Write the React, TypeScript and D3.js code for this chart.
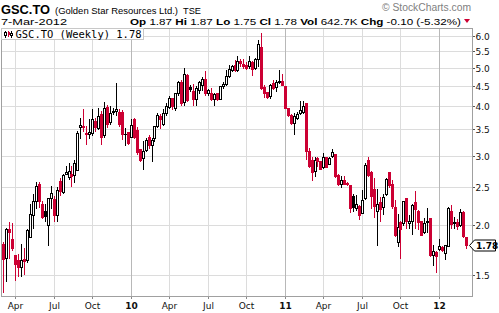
import React, { useEffect } from "react";
import * as d3 from "d3";

// Weekly candles for GSC.TO, first week starting Monday 9-Mar-2009
const firstWeek = new Date(2009, 2, 9);
const lastWeekEnd = new Date(2012, 2, 6);

const opens = [
  1.80, 1.66, 1.96, 1.85, 1.68, 1.64, 1.57, 1.65, 1.64, 1.87,
  2.12, 2.31, 2.54, 2.27, 2.17, 2.00, 2.34, 2.33, 2.13, 2.59,
  2.43, 2.70, 2.65, 2.69, 2.68, 2.76, 3.53, 3.56, 3.39, 3.40,
  3.42, 3.66, 3.52, 3.82, 3.37, 3.98, 3.65, 3.86, 3.88, 3.86,
  3.86, 3.39, 3.44, 3.35, 3.71, 3.47, 3.11, 2.96, 3.09, 3.34,
  3.19, 3.32, 3.56, 3.78, 3.61, 3.85, 3.97, 4.19, 3.95, 4.31,
  4.60, 4.10, 4.79, 4.46, 4.37, 4.16, 4.40, 4.52, 4.68, 4.30,
  4.31, 4.17, 4.30, 4.17, 4.48, 4.54, 4.77, 4.92, 5.06, 4.92,
  5.19, 5.10, 5.07, 5.03, 5.17, 5.00, 5.24, 5.63, 4.47, 4.35,
  4.23, 4.58, 4.47, 4.59, 4.61, 4.48, 3.95, 3.80, 3.62, 3.74,
  3.84, 3.86, 4.07, 3.08, 2.92, 2.74, 2.95, 2.91, 2.81, 2.97,
  2.86, 2.99, 3.02, 2.68, 2.55, 2.60, 2.56, 2.53, 2.37, 2.21,
  2.24, 2.15, 2.35, 2.93, 2.73, 2.47, 2.18, 2.29, 2.23, 2.40,
  2.73, 2.54, 2.23, 1.82, 2.04, 2.03, 2.34, 2.03, 2.05, 2.29,
  2.17, 2.05, 1.93, 2.05, 2.09, 1.68, 1.71, 1.74, 1.76, 1.70,
  1.77, 2.18, 2.03, 2.04, 2.00, 2.16, 1.87,
];
const highs = [
  1.82, 1.97, 2.04, 2.03, 1.68, 1.69, 1.80, 1.75, 1.96, 2.26,
  2.40, 2.58, 2.58, 2.30, 2.26, 2.35, 2.52, 2.37, 2.50, 2.63,
  2.69, 2.82, 2.88, 2.83, 2.92, 3.45, 3.73, 3.93, 3.56, 3.70,
  3.92, 3.72, 3.95, 3.88, 4.10, 4.02, 4.00, 3.95, 4.57, 3.93,
  3.90, 3.52, 3.44, 3.70, 3.73, 3.54, 3.12, 3.26, 3.33, 3.37,
  3.33, 3.56, 3.83, 3.81, 3.92, 4.08, 4.25, 4.20, 4.31, 4.61,
  4.65, 4.98, 4.81, 4.52, 4.55, 4.50, 4.63, 4.72, 4.90, 4.42,
  4.44, 4.31, 4.31, 4.48, 4.60, 4.93, 5.06, 5.08, 5.23, 5.36,
  5.25, 5.25, 5.15, 5.33, 5.19, 5.28, 5.85, 6.12, 4.52, 4.35,
  4.55, 4.64, 4.64, 4.94, 4.81, 4.48, 3.96, 3.81, 3.84, 3.86,
  4.12, 4.12, 4.07, 3.14, 2.98, 2.98, 2.98, 2.91, 3.05, 2.98,
  2.98, 3.12, 3.03, 2.70, 2.66, 2.66, 2.58, 2.53, 2.40, 2.38,
  2.25, 2.45, 2.87, 2.97, 2.74, 2.64, 2.47, 2.36, 2.40, 2.64,
  2.73, 2.60, 2.32, 2.14, 2.05, 2.30, 2.35, 2.12, 2.27, 2.44,
  2.19, 2.05, 2.09, 2.21, 2.09, 1.79, 1.72, 1.85, 1.77, 1.78,
  2.22, 2.25, 2.10, 2.08, 2.20, 2.18, 1.87,
];
const lows = [
  1.36, 1.45, 1.66, 1.73, 1.46, 1.49, 1.49, 1.51, 1.62, 1.87,
  1.97, 2.21, 2.23, 2.09, 2.05, 1.79, 2.21, 2.05, 2.05, 2.38,
  2.42, 2.69, 2.62, 2.52, 2.58, 2.76, 3.32, 3.46, 3.20, 3.33,
  3.38, 3.45, 3.49, 3.20, 3.35, 3.55, 3.60, 3.82, 3.80, 3.56,
  3.31, 3.19, 3.20, 3.34, 3.32, 3.02, 2.90, 2.78, 3.08, 3.13,
  2.90, 3.26, 3.53, 3.52, 3.59, 3.80, 3.96, 3.93, 3.91, 4.27,
  4.02, 4.02, 4.12, 4.37, 4.02, 4.02, 4.30, 4.40, 4.27, 4.27,
  4.13, 4.02, 4.14, 4.16, 4.44, 4.52, 4.74, 4.90, 4.91, 4.90,
  5.04, 4.98, 4.95, 4.99, 4.80, 4.97, 5.04, 4.42, 4.22, 4.18,
  4.18, 4.42, 4.37, 4.58, 4.52, 3.95, 3.78, 3.61, 3.39, 3.70,
  3.82, 3.85, 2.94, 2.80, 2.61, 2.67, 2.82, 2.77, 2.79, 2.80,
  2.85, 2.98, 2.65, 2.53, 2.50, 2.54, 2.53, 2.16, 2.17, 2.19,
  2.07, 2.15, 2.33, 2.66, 2.21, 2.10, 1.78, 2.05, 2.14, 2.38,
  2.50, 2.21, 1.88, 1.77, 1.66, 2.01, 1.97, 1.97, 1.90, 1.97,
  1.96, 1.89, 1.91, 1.93, 1.67, 1.59, 1.53, 1.73, 1.72, 1.65,
  1.77, 1.97, 1.97, 1.96, 1.99, 1.87, 1.75,
];
const closes = [
  1.65, 1.96, 1.93, 1.75, 1.60, 1.57, 1.64, 1.63, 1.95, 2.14,
  2.31, 2.52, 2.31, 2.10, 2.11, 2.34, 2.42, 2.13, 2.46, 2.44,
  2.68, 2.72, 2.74, 2.67, 2.88, 3.42, 3.58, 3.54, 3.42, 3.44,
  3.71, 3.54, 3.77, 3.35, 3.95, 3.60, 3.85, 3.88, 3.92, 3.61,
  3.39, 3.40, 3.23, 3.58, 3.35, 3.06, 2.93, 3.08, 3.28, 3.19,
  3.29, 3.56, 3.80, 3.70, 3.85, 3.99, 4.19, 3.99, 4.31, 4.59,
  4.08, 4.81, 4.15, 4.42, 4.17, 4.45, 4.60, 4.69, 4.32, 4.38,
  4.17, 4.28, 4.17, 4.48, 4.54, 4.77, 4.96, 5.03, 4.94, 5.20,
  5.12, 5.03, 4.99, 5.19, 4.95, 5.25, 5.74, 4.44, 4.32, 4.22,
  4.53, 4.45, 4.59, 4.63, 4.52, 3.95, 3.79, 3.62, 3.78, 3.82,
  3.90, 3.99, 3.08, 2.83, 2.73, 2.93, 2.90, 2.78, 2.98, 2.81,
  2.95, 3.07, 2.66, 2.55, 2.60, 2.55, 2.54, 2.21, 2.22, 2.26,
  2.12, 2.32, 2.84, 2.68, 2.37, 2.24, 2.27, 2.20, 2.36, 2.62,
  2.53, 2.24, 1.89, 1.98, 1.96, 2.30, 2.05, 2.05, 2.25, 2.20,
  2.04, 1.89, 2.03, 2.04, 1.68, 1.72, 1.67, 1.77, 1.73, 1.78,
  2.21, 2.02, 2.04, 1.99, 2.16, 1.88, 1.78,
];

const priceTicks = [1.5, 2.0, 2.5, 3.0, 3.5, 4.0, 4.5, 5.0, 5.5, 6.0];

const symbol = "GSC.TO";
const companyName = "(Golden Star Resources Ltd.)";
const exchange = "TSE";
const dateLabel = "7-Mar-2012";
const quoteLabels = ["Op", "Hi", "Lo", "Cl", "Vol", "Chg"];
const quoteValues = ["1.87", "1.87", "1.75", "1.78", "642.7K", "-0.10 (-5.32%)"];
const legendLabel = "GSC.TO (Weekly) 1.78";
const copyright = "\u00A9 StockCharts.com";

const W = 499;
const H = 313;
const RED = "#cc0033";
const GRID = "#dcdcdc";
const YEAR_GRID = "#b8b8b8";
const FRAME = "#a0a0a0";
const SANS = "'DejaVu Sans', Verdana, sans-serif";
const ARIAL = "'Liberation Sans', Arial, sans-serif";

export default function App() {
  useEffect(() => {
    document.body.style.margin = "0";
  }, []);

  const dates = d3.timeMonday.range(firstWeek, lastWeekEnd).slice(0, closes.length);
  const x = d3
    .scaleTime()
    .domain([dates[0], dates[dates.length - 1]])
    .range([3.3, 465.7]);
  const y = d3.scaleLog().domain([1.32, 6.27]).range([297, 28.5]);

  const plotL = 1.5;
  const plotR = 472;
  const plotT = 28.5;
  const plotB = 296.5;

  const quarterTicks = dates
    .map((d, i) => ({ d, i }))
    .filter(
      ({ d, i }) =>
        i > 0 && d.getMonth() % 3 === 0 && dates[i - 1].getMonth() !== d.getMonth()
    );
  const fmtMonth = d3.timeFormat("%b");
  const fmtYear = d3.timeFormat("%y");

  const lastClose = closes[closes.length - 1];
  const tagY = Math.round(y(lastClose));

  return (
    <svg
      width={W}
      height={H}
      style={{ position: "absolute", left: 0, top: 0, background: "#fff" }}
      xmlns="http://www.w3.org/2000/svg"
    >
      <rect x={0} y={0} width={W} height={H} fill="#fff" />

      {/* header */}
      <text x={1} y={13.8} fontFamily={ARIAL} fontWeight="bold" fontSize={13} textLength={49} lengthAdjust="spacingAndGlyphs">
        {symbol}
      </text>
      <text x={55} y={13.5} fontFamily={ARIAL} fontSize={9.4} textLength={123} lengthAdjust="spacingAndGlyphs">
        {companyName}
      </text>
      <text x={183} y={13.5} fontFamily={ARIAL} fontSize={9.8} textLength={18} lengthAdjust="spacingAndGlyphs">
        {exchange}
      </text>
      <text x={382} y={10.5} fontFamily={ARIAL} fontSize={10} fill="#808080" textLength={89} lengthAdjust="spacingAndGlyphs">
        {copyright}
      </text>
      <text x={1} y={25} fontFamily={ARIAL} fontSize={9.5} textLength={66} lengthAdjust="spacingAndGlyphs">
        {dateLabel}
      </text>
      <text x={130} y={25} fontFamily={ARIAL} fontSize={9.5} textLength={331} lengthAdjust="spacingAndGlyphs">
        {quoteLabels.map((lab, i) => (
          <React.Fragment key={lab}>
            <tspan fontWeight="bold">{(i > 0 ? " " : "") + lab}</tspan>
            <tspan>{" " + quoteValues[i]}</tspan>
          </React.Fragment>
        ))}
      </text>
      <polygon points="464,19 470,19 467,23" fill={RED} />

      {/* horizontal grid */}
      {priceTicks.map((t) => {
        const yy = Math.round(y(t)) + 0.5;
        return (
          <g key={"h" + t}>
            <line x1={plotL} x2={plotR} y1={yy} y2={yy} stroke={GRID} strokeWidth={1} />
            <line x1={plotR} x2={plotR + 3} y1={yy} y2={yy} stroke="#555" strokeWidth={1} />
            <text x={475.5} y={yy + 3.5} fontFamily={SANS} fontSize={9} fill="#111">
              {t.toFixed(1)}
            </text>
          </g>
        );
      })}

      {/* vertical grid + x labels */}
      {quarterTicks.map(({ d }) => {
        const xx = Math.round(x(d)) + 0.5;
        const isYear = d.getMonth() === 0;
        return (
          <g key={"v" + d.getTime()}>
            <line
              x1={xx}
              x2={xx}
              y1={plotT}
              y2={plotB}
              stroke={isYear ? YEAR_GRID : GRID}
              strokeWidth={1}
            />
            <line x1={xx} x2={xx} y1={plotB} y2={plotB + 2.5} stroke="#888" strokeWidth={1} />
            <text
              x={xx}
              y={309}
              textAnchor="middle"
              fontFamily={SANS}
              fontSize={9}
              fontWeight={isYear ? "bold" : "normal"}
              fill="#111"
            >
              {isYear ? fmtYear(d) : fmtMonth(d)}
            </text>
          </g>
        );
      })}

      {/* candles */}
      <g shapeRendering="crispEdges">
        {dates.map((d, i) => {
          const o = opens[i];
          const h = highs[i];
          const l = lows[i];
          const c = closes[i];
          const prev = i > 0 ? closes[i - 1] : o;
          const col = c >= prev ? "#000" : RED;
          const filled = c < o;
          const cx = Math.round(x(d));
          const yH = Math.round(y(h));
          const yL = Math.round(y(l));
          const yT = Math.round(y(Math.max(o, c)));
          const yB = Math.round(y(Math.min(o, c)));
          return (
            <g key={i}>
              <line x1={cx + 0.5} x2={cx + 0.5} y1={yH} y2={yL + 1} stroke={col} strokeWidth={1} />
              {filled || yB - yT < 2 ? (
                <rect x={cx - 1} y={yT} width={3} height={Math.max(1, yB - yT + 1)} fill={col} />
              ) : (
                <rect
                  x={cx - 0.5}
                  y={yT + 0.5}
                  width={2}
                  height={yB - yT}
                  fill="#fff"
                  stroke={col}
                  strokeWidth={1}
                />
              )}
            </g>
          );
        })}
      </g>

      {/* frame */}
      <rect
        x={plotL}
        y={plotT}
        width={plotR - plotL + 0.5}
        height={plotB - plotT}
        fill="none"
        stroke={FRAME}
        strokeWidth={1}
        shapeRendering="crispEdges"
      />

      {/* legend */}
      <rect x={1.5} y={28.5} width={141.5} height={11} fill="#fff" stroke="#c8c8c8" strokeWidth={1} shapeRendering="crispEdges" />
      <g shapeRendering="crispEdges">
        <line x1={5.5} x2={5.5} y1={31} y2={38} stroke="#000" />
        <rect x={4.5} y={32.5} width={2} height={3} fill="#fff" stroke="#000" />
        <line x1={8.5} x2={8.5} y1={31} y2={37} stroke={RED} />
        <rect x={8} y={32} width={2} height={3} fill={RED} />
        <line x1={11.5} x2={11.5} y1={31} y2={38} stroke="#000" />
        <rect x={10.5} y={33.5} width={2} height={2} fill="#fff" stroke="#000" />
      </g>
      <text x={15.5} y={37.5} fontFamily="'DejaVu Sans Mono', monospace" fontSize={10.5} textLength={126} lengthAdjust="spacingAndGlyphs">
        {legendLabel}
      </text>

      {/* last price tag */}
      <polygon
        points={`469.5,${tagY + 0.5} 474.5,${tagY - 5} 495.5,${tagY - 5} 495.5,${tagY + 6} 474.5,${tagY + 6}`}
        fill="#fff"
        stroke="#000"
        strokeWidth={1}
      />
      <text x={476} y={tagY + 4} fontFamily={SANS} fontWeight="bold" fontSize={9} fill="#000">
        {lastClose.toFixed(2)}
      </text>
    </svg>
  );
}
